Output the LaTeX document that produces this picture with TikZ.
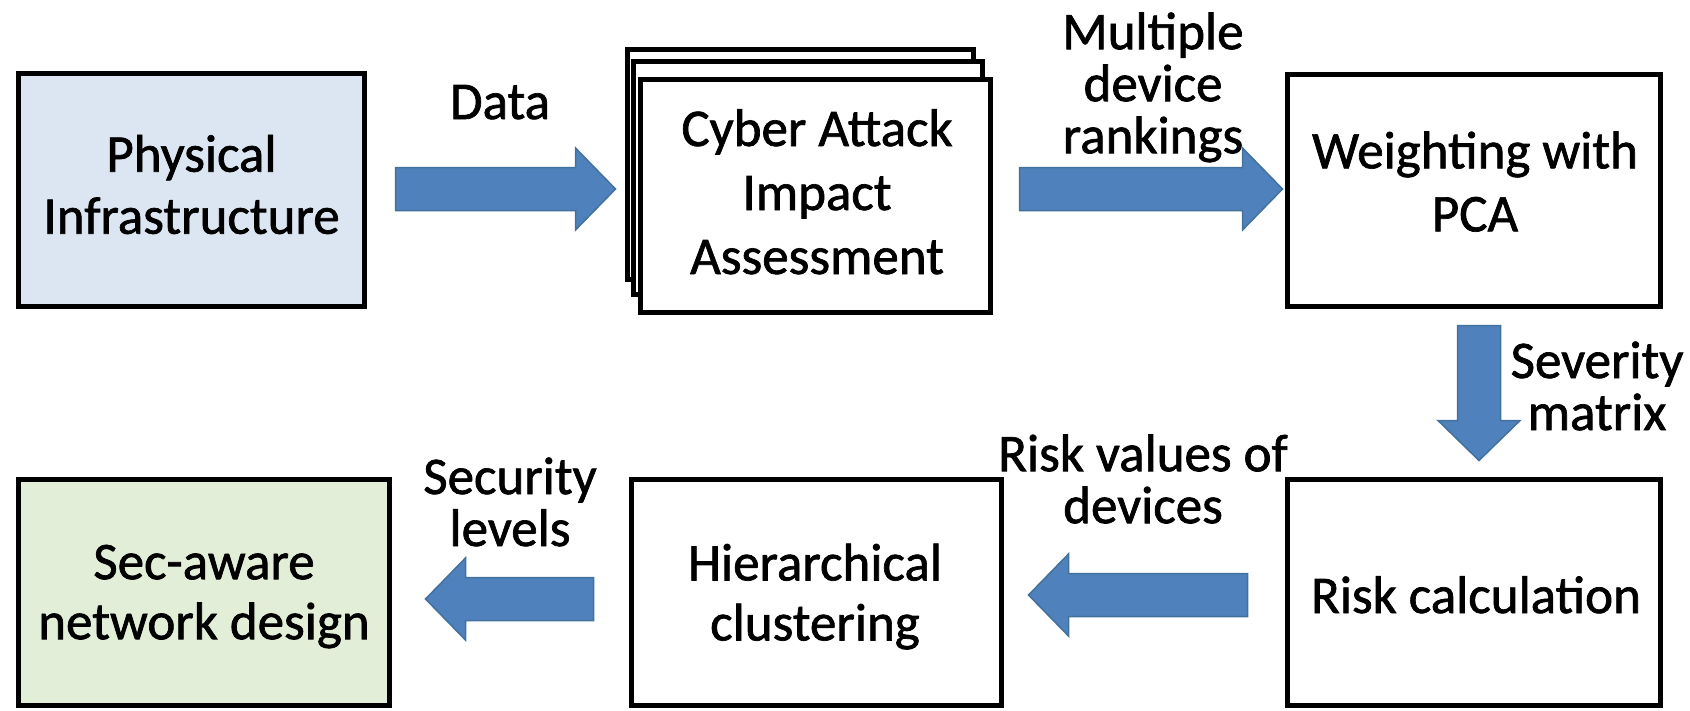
\documentclass[tikz,border=0pt]{standalone}
\usepackage{fontspec}
\setmainfont{Carlito}[FakeBold=1.3]
\usetikzlibrary{calc}

\definecolor{arrowblue}{HTML}{4F81BD}
\definecolor{arrowedge}{HTML}{41719C}
\definecolor{physfill}{HTML}{DCE6F2}
\definecolor{secfill}{HTML}{E2EED8}

% Block arrows between two named coordinates (shaft half width 21.5, head half width 41, head length 40)
\newcommand{\blockright}[2]{\draw[blockarrow] ($(#1)+(0,-21.5)$) -- ($(#2)+(-40,-21.5)$) -- ($(#2)+(-40,-41)$) -- (#2) -- ($(#2)+(-40,41)$) -- ($(#2)+(-40,21.5)$) -- ($(#1)+(0,21.5)$) -- cycle;}
\newcommand{\blockleft}[2]{\draw[blockarrow] ($(#1)+(0,-21.5)$) -- ($(#2)+(40,-21.5)$) -- ($(#2)+(40,-41)$) -- (#2) -- ($(#2)+(40,41)$) -- ($(#2)+(40,21.5)$) -- ($(#1)+(0,21.5)$) -- cycle;}
\newcommand{\blockdown}[2]{\draw[blockarrow] ($(#1)+(-21.5,0)$) -- ($(#2)+(-21.5,-40)$) -- ($(#2)+(-41,-40)$) -- (#2) -- ($(#2)+(41,-40)$) -- ($(#2)+(21.5,-40)$) -- ($(#1)+(21.5,0)$) -- cycle;}

\begin{document}
\begin{tikzpicture}[x=1pt,y=-1pt,
  box/.style={draw=black, line width=5pt, fill=white, rectangle, inner sep=0pt},
  boxtext/.style={font=\fontsize{53}{62}\selectfont, align=center, inner sep=0pt,
    execute at begin node=\strut, execute at end node=\strut},
  labeltext/.style={font=\fontsize{53}{52}\selectfont, align=center, inner sep=0pt,
    execute at begin node=\strut, execute at end node=\strut},
  blockarrow/.style={fill=arrowblue, draw=arrowedge, line width=1.5pt, line join=miter}
]
\useasboundingbox (0,0) rectangle (1690,710);

% top row
\node[box, fill=physfill, minimum width=346pt, minimum height=233pt] (phys) at (191.5,190) {};
\node[box, minimum width=346pt, minimum height=230pt] (cyberback) at (800.5,164.5) {};
\node[box, minimum width=349pt, minimum height=233pt] (cybermid) at (808,178) {};
\node[box, minimum width=350pt, minimum height=233pt] (front) at (815.5,196) {};
\node[box, minimum width=373pt, minimum height=232pt] (weight) at (1474,190.5) {};

% bottom row
\node[box, minimum width=373pt, minimum height=226pt] (risk) at (1474,592.5) {};
\node[box, minimum width=370pt, minimum height=226pt] (hier) at (816.5,592.5) {};
\node[box, fill=secfill, minimum width=371pt, minimum height=226pt] (sec) at (204,592.5) {};

% box texts
\node[boxtext] (physT) at (191.5,193.6) {Physical\\Infrastructure};
\node[boxtext, font=\fontsize{53}{64}\selectfont] (frontT) at (817,201.2) {Cyber Attack\\Impact\\Assessment};
\node[boxtext, font=\fontsize{53}{63}\selectfont] (weightT) at (1475,190.9) {Weighting with\\PCA};
\node[boxtext] (riskT) at (1476,600.6) {Risk calculation};
\node[boxtext, font=\fontsize{53}{60}\selectfont] (hierT) at (815,601) {Hierarchical\\clustering};
\node[boxtext, font=\fontsize{53}{60}\selectfont] (secT) at (204,601) {Sec-aware\\network design};

% arrow end points
\coordinate (a1s) at ($(phys.east)+(28.5,-1)$);
\coordinate (a1e) at ($(front.west)+(-22.5,-7)$);
\coordinate (a2s) at ($(front.east)+(26.5,-7)$);
\coordinate (a2e) at ($(weight.west)+(-2.5,-1.5)$);
\coordinate (a3s) at ($(weight.south)+(5,16.5)$);
\coordinate (a3e) at ($(risk.north)+(5,-16.5)$);
\coordinate (a4s) at ($(risk.west)+(-37.5,2.5)$);
\coordinate (a4e) at ($(hier.east)+(24.5,2.5)$);
\coordinate (a5s) at ($(hier.west)+(-35.5,6.5)$);
\coordinate (a5e) at ($(sec.east)+(33.5,6.5)$);

\blockright{a1s}{a1e}
\blockright{a2s}{a2e}
\blockdown{a3s}{a3e}
\blockleft{a4s}{a4e}
\blockleft{a5s}{a5e}

% arrow labels
\node[labeltext] (dataL) at (500,108.6) {Data};
\node[labeltext] (multiL) at (1153,90.6) {Multiple\\device\\rankings};
\node[labeltext] (sevL) at (1597,393.6) {Severity\\matrix};
\node[labeltext] (riskvL) at (1143,486.6) {Risk values of\\devices};
\node[labeltext] (secL) at (510,509.6) {Security\\levels};
\end{tikzpicture}
\end{document}
